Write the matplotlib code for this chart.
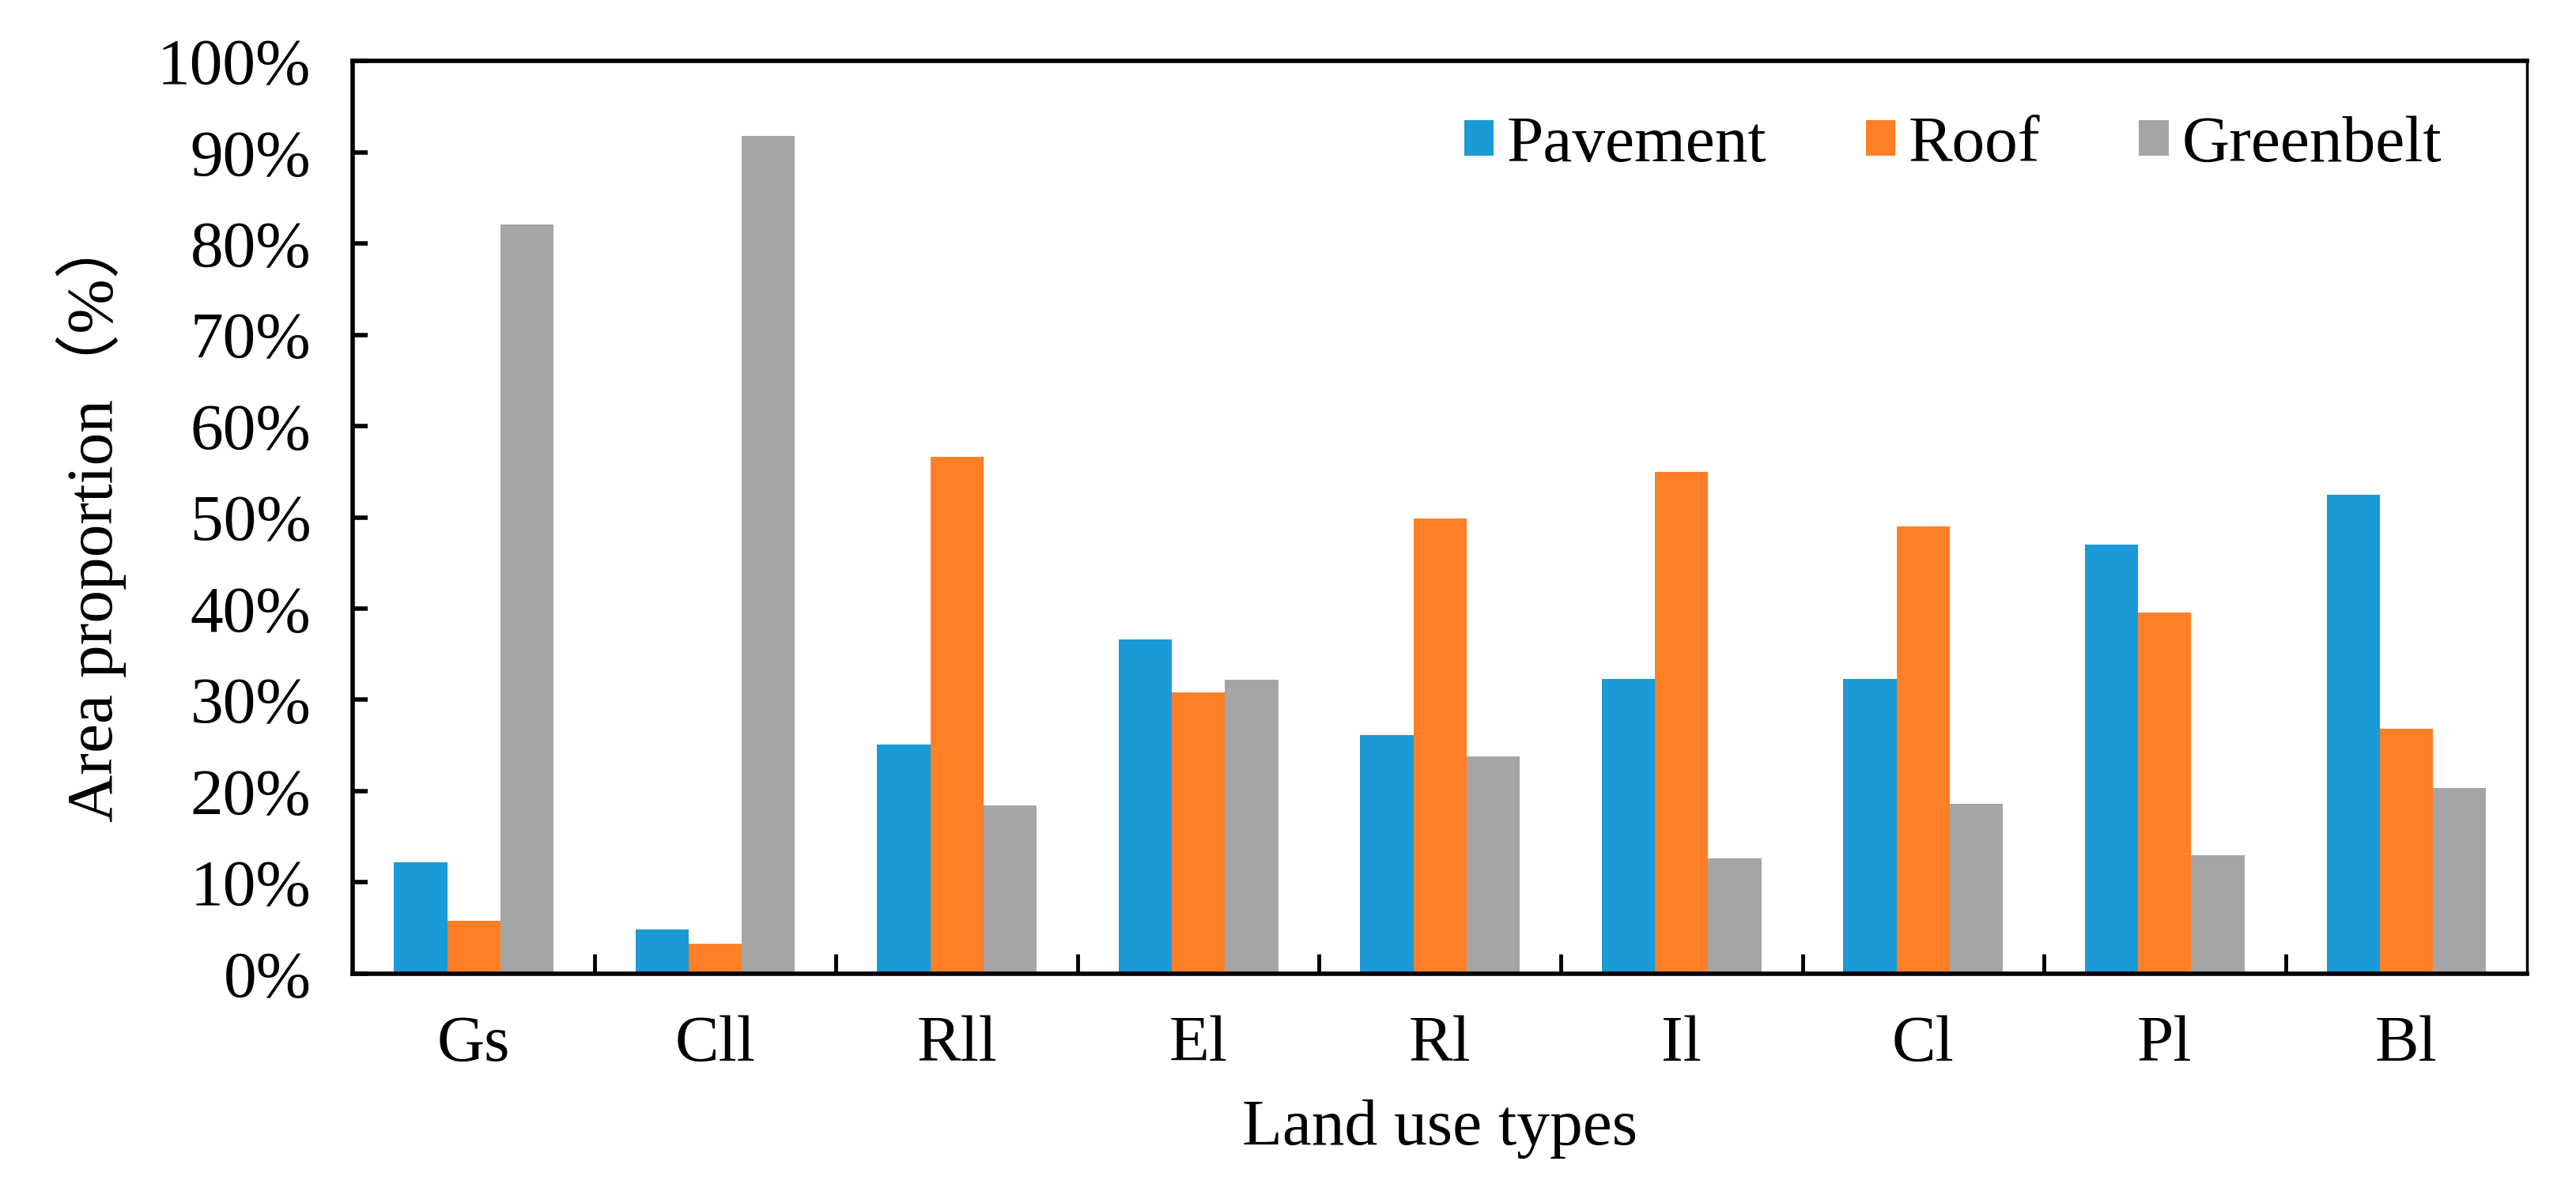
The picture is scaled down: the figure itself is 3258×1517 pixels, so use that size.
import matplotlib
matplotlib.use("Agg")
import matplotlib.pyplot as plt
import numpy as np
from matplotlib.ticker import FixedLocator, FuncFormatter

categories = ["Gs", "Cll", "Rll", "El", "Rl", "Il", "Cl", "Pl", "Bl"]
pavement = [12.2, 4.8, 25.1, 36.6, 26.1, 32.3, 32.3, 47.0, 52.5]
roof = [5.8, 3.3, 56.6, 30.8, 49.9, 55.0, 49.0, 39.6, 26.8]
greenbelt = [82.1, 91.8, 18.4, 32.2, 23.8, 12.6, 18.6, 13.0, 20.3]
series_names = ["Pavement", "Roof", "Greenbelt"]
colors = ["#1A9AD6", "#FF7F27", "#A5A5A5"]

plt.rcParams['font.family'] = ['Liberation Serif', 'Noto Sans CJK SC', 'DejaVu Sans']

fig = plt.figure(figsize=(32.58, 15.17), dpi=100)
ax = fig.add_axes([0.137, 0.188, 0.844, 0.761])

x = np.arange(len(categories))
w = 0.22
for i, (vals, name, c) in enumerate(zip([pavement, roof, greenbelt], series_names, colors)):
    ax.bar(x + (i - 1) * w, vals, width=w, color=c, label=name, zorder=2)

ax.set_xlim(-0.5, len(categories) - 0.5)
ax.set_ylim(0, 100)
ax.set_yticks(np.arange(0, 101, 10))
ax.yaxis.set_major_formatter(FuncFormatter(lambda v, p: f"{int(v)}%"))
ax.set_xticks(x)
ax.set_xticklabels(categories)
ax.xaxis.set_minor_locator(FixedLocator(np.arange(0.5, len(categories) - 1, 1.0)))

ax.tick_params(axis='y', direction='in', length=14, width=4, labelsize=60, pad=38)
ax.tick_params(axis='x', which='major', length=0, labelsize=60, pad=38)
ax.tick_params(axis='x', which='minor', direction='in', length=18, width=3.5)

for s in ['left', 'bottom', 'top']:
    ax.spines[s].set_linewidth(4)
ax.spines['right'].set_linewidth(2.5)

ax.set_xlabel("Land use types", fontsize=60, labelpad=22)
ax.set_ylabel("Area proportion（%）", fontsize=60, labelpad=28)

leg = ax.legend(loc='upper right', ncol=3, frameon=False, fontsize=60,
                handlelength=0.45, handleheight=0.45, handletextpad=0.2,
                columnspacing=1.5, bbox_to_anchor=(0.988, 1.005))

fig.savefig("out.png", dpi=100, facecolor="white")
